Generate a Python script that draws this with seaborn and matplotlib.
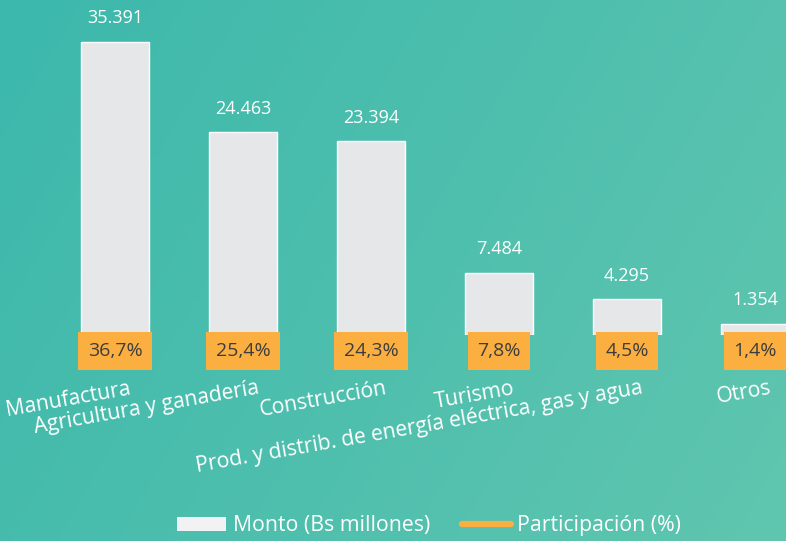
import matplotlib
matplotlib.use("Agg")
import matplotlib.pyplot as plt
import matplotlib.colors as mcolors
from matplotlib.patches import Patch
from matplotlib.lines import Line2D
from matplotlib.transforms import ScaledTranslation
import seaborn as sns
import numpy as np

# datos del gráfico
sectores = ["Manufactura", "Agricultura y ganadería", "Construcción", "Turismo",
            "Prod. y distrib. de energía eléctrica, gas y agua", "Otros"]
monto = [35391, 24463, 23394, 7484, 4295, 1354]
participacion = [36.7, 25.4, 24.3, 7.8, 4.5, 1.4]

color_barra = "#e6e7e9"
color_naranja = "#fbaf41"

sns.set_theme(style="white")
plt.rcParams["font.family"] = ["Open Sans", "DejaVu Sans"]

fig = plt.figure(figsize=(7.86, 5.41), dpi=100)

# fondo con degradado
bg = fig.add_axes([0, 0, 1, 1], zorder=-10)
xx, yy = np.meshgrid(np.linspace(0, 1, 200), np.linspace(0, 1, 140))
t = np.clip(0.75 * xx + 0.3 * yy, 0, 1)
c0 = np.array(mcolors.to_rgb("#3cb8ac"))
c1 = np.array(mcolors.to_rgb("#5ec5af"))
img = c0[None, None, :] * (1 - t[..., None]) + c1[None, None, :] * t[..., None]
bg.imshow(img, aspect="auto", extent=[0, 1, 0, 1], origin="upper")
bg.axis("off")

# eje principal
ax = fig.add_axes([51 / 786, 206 / 541, 768 / 786, 315 / 541])
ax.patch.set_alpha(0)
sns.barplot(x=sectores, y=monto, color=color_barra, width=0.53, saturation=1, ax=ax)
ax.set_xlim(-0.5, 5.5)
ax.set_ylim(0, 38050)
for s in ax.spines.values():
    s.set_visible(False)
ax.set_yticks([])
ax.set_xlabel("")
ax.set_ylabel("")

# valores sobre las barras
for i, v in enumerate(monto):
    ax.annotate(f"{v:,}".replace(",", "."), (i, v), xytext=(0, 17), textcoords="offset points",
                ha="center", va="center", color="white", fontsize=13)

# etiquetas de participación en cajas naranjas
for i, p in enumerate(participacion):
    ax.annotate(f"{p:.1f}%".replace(".", ","), (i, 0), xytext=(0, -11.5), textcoords="offset points",
                ha="center", va="center", color="#3d3d3d", fontsize=14,
                bbox=dict(boxstyle="square,pad=0.5", fc=color_naranja, ec="none"))

# etiquetas del eje x rotadas
ax.tick_params(axis="x", length=0, pad=31)
ax.set_xticks(range(len(sectores)))
ax.set_xticklabels(sectores, rotation=10, ha="right", rotation_mode="anchor",
                   color="white", fontsize=15.2)
for lbl in ax.get_xticklabels():
    lbl.set_transform(lbl.get_transform() + ScaledTranslation(0.14, 0, fig.dpi_scale_trans))

# leyenda
handles = [Patch(facecolor="#f2f2f4", edgecolor="none"),
           Line2D([], [], color=color_naranja, lw=4.5, solid_capstyle="round")]
fig.legend(handles, ["Monto (Bs millones)", "Participación (%)"], loc="center",
           bbox_to_anchor=(0.546, 0.028), ncol=2, frameon=False, fontsize=15.3,
           labelcolor="white", handlelength=2.3, handleheight=0.65,
           handletextpad=0.3, columnspacing=1.5)

fig.savefig("out.png", dpi=100)
